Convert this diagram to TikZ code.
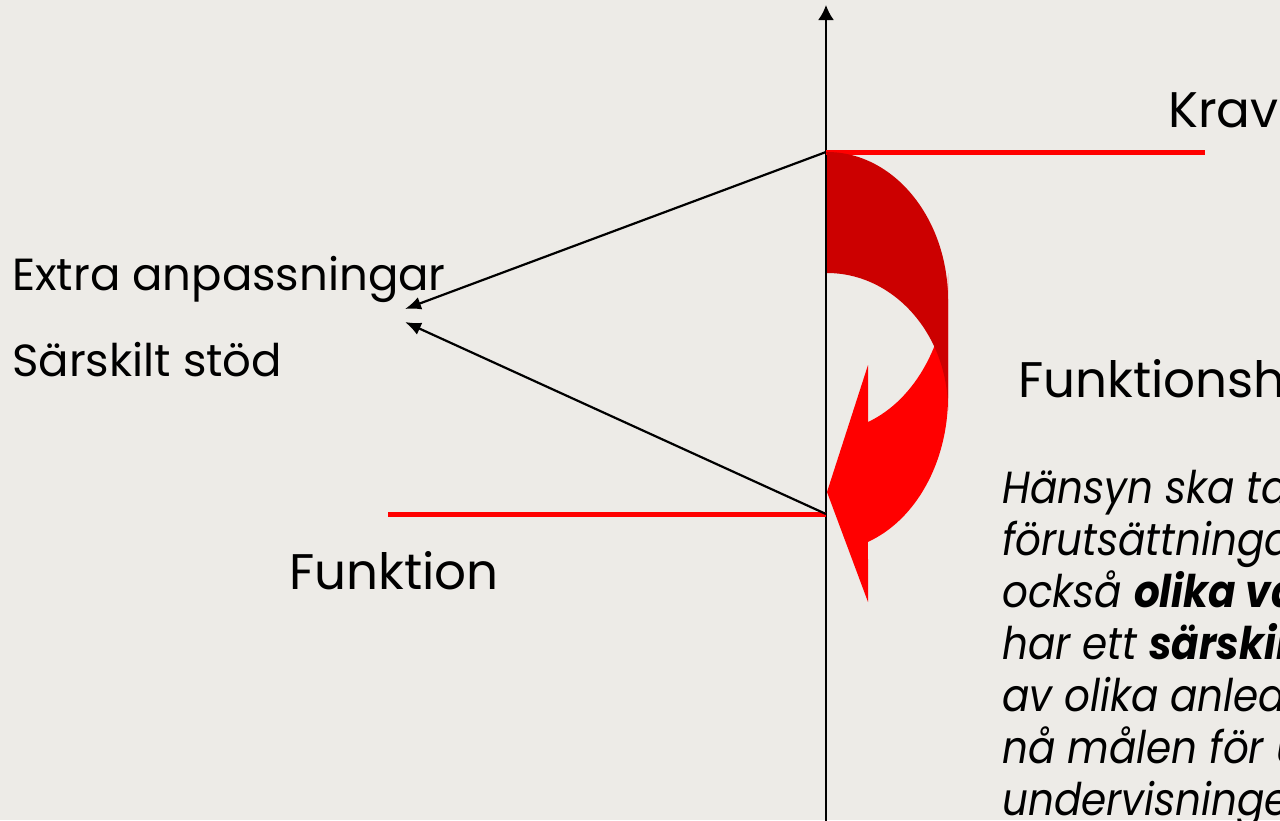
\documentclass[tikz,border=0pt]{standalone}
\usepackage{fontspec}
\setmainfont{Poppins}
\newfontfamily\kvnotefont[FakeStretch=0.9]{Poppins}
\usetikzlibrary{arrows.meta}
\definecolor{kvpaper}{RGB}{237,235,231}
\definecolor{kvdark}{RGB}{204,0,0}
\definecolor{kvbright}{RGB}{255,0,0}

\begin{document}
\begin{tikzpicture}[
    x=1pt, y=-1pt,
    >={Latex[length=15pt, width=16pt]},
    kvlabel/.style={anchor=base west, inner sep=0pt, font=\fontsize{50}{60}\selectfont},
    kvsmall/.style={anchor=base west, inner sep=0pt, font=\fontsize{45}{54}\selectfont},
    kvnote/.style={anchor=base west, inner sep=0pt, font=\kvnotefont\fontsize{45}{52}\selectfont\itshape},
    kvred/.style={draw=kvbright, line width=5pt},
    kvarrow/.style={-{Latex[length=16pt, width=13pt]}, line width=2.2pt}
]
\useasboundingbox (0,0) rectangle (1280,820);
\clip (0,0) rectangle (1280,820);
\fill[kvpaper] (0,0) rectangle (1280,820);

\coordinate (axbot) at (826,822);
\coordinate (axtop) at (826,5);
\coordinate (krav) at (826,152);
\coordinate (kravend) at (1205,152);
\coordinate (funk) at (826,514);
\coordinate (funkstart) at (388,514);
\coordinate (extratip) at (405,309);
\coordinate (stodtip) at (405,322);

% axel och nivaer
\draw[->, line width=2.2pt] (axbot) -- (axtop);
\draw[kvred] (krav) -- (kravend);
\draw[kvred] (funkstart) -- (funk);
\draw[kvarrow] (krav) -- (extratip);
\draw[kvarrow] (funk) -- (stodtip);

% bojd pil
\fill[kvbright] (868,422) arc[start angle=70.2, end angle=0, x radius=121, y radius=158]
    -- (948,397) arc[start angle=0, end angle=70.2, x radius=121, y radius=154]
    -- (868,602) -- (827,492) -- (868,365) -- cycle;
\fill[kvdark] (827,152) arc[start angle=-90, end angle=0, x radius=121, y radius=148]
    -- (948,410) arc[start angle=0, end angle=-90, x radius=121, y radius=137] -- cycle;

\node[kvlabel] (kravlbl) at (1168,127) {Krav};
\node[kvsmall] (extralbl) at (12,290) {Extra anpassningar};
\node[kvsmall] (stodlbl) at (12,376) {Särskilt stöd};
\node[kvlabel] (funklbl) at (289,589) {Funktion};
\node[kvlabel] (hinderlbl) at (1018,397) {Funktionsh};

\node[kvnote] (note1) at (1002,503) {Hänsyn ska ta};
\node[kvnote] (note2) at (1002,555) {förutsättninga};
\node[kvnote] (note3) at (1002,607) {också \textbf{olika vä}};
\node[kvnote] (note4) at (1002,659) {har ett \textbf{särskilt}};
\node[kvnote] (note5) at (1002,711) {av olika anled};
\node[kvnote] (note6) at (1002,763) {nå målen för u};
\node[kvnote] (note7) at (1002,815) {undervisninge};
\end{tikzpicture}
\end{document}
